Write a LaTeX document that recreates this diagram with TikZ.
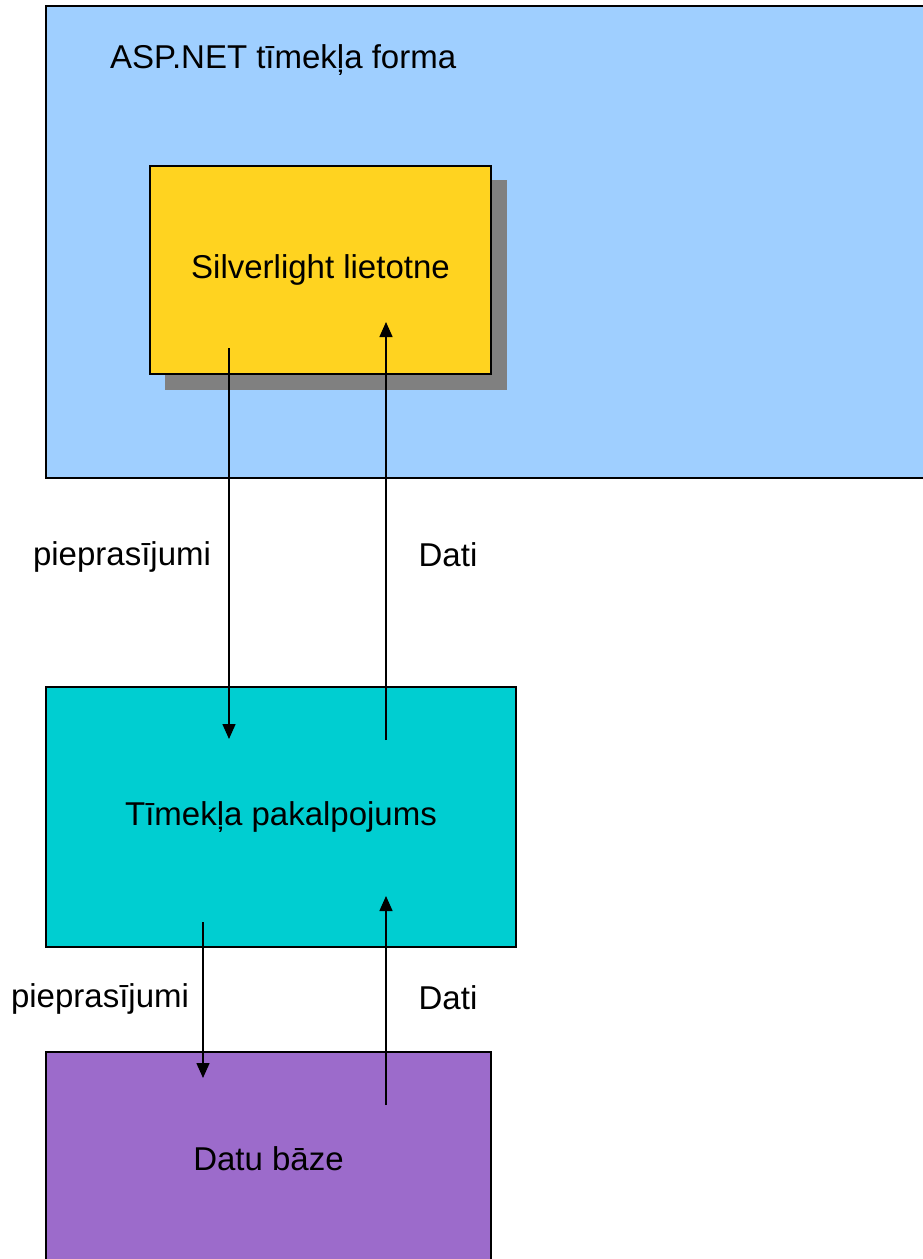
\documentclass[tikz,border=0pt]{standalone}
\usepackage{fontspec}
\setmainfont{Liberation Sans}
\usetikzlibrary{arrows.meta}
\definecolor{aspblue}{RGB}{159,207,255}
\definecolor{slgold}{RGB}{255,211,32}
\definecolor{shadowgray}{RGB}{128,128,128}
\definecolor{wsteal}{RGB}{0,206,209}
\definecolor{dbpurple}{RGB}{156,107,203}
\tikzset{
  box/.style={draw=black, line width=1.5pt, rectangle, inner sep=0pt, font=\fontsize{33}{39}\selectfont},
  lbl/.style={inner sep=0pt, font=\fontsize{33}{39}\selectfont},
  flow/.style={line width=1.5pt, -{Triangle[length=15pt,width=13pt]}}
}
\begin{document}
\begin{tikzpicture}[x=1pt,y=-1pt]
\useasboundingbox (0,0) rectangle (923,1259);
\fill[white] (0,0) rectangle (923,1259);
% ASP.NET form
\node[box, fill=aspblue, minimum width=884pt, minimum height=472pt] (asp) at (488,242) {};
\node[lbl, anchor=west] (asptitle) at (110,60) {ASP.NET tīmekļa forma};
% Silverlight app with shadow
\node[rectangle, fill=shadowgray, inner sep=0pt, minimum width=342pt, minimum height=210pt] (slshadow) at (336,285) {};
\node[box, fill=slgold, minimum width=341pt, minimum height=208pt] (sl) at (320.5,270) {Silverlight lietotne};
% Web service
\node[box, fill=wsteal, minimum width=470pt, minimum height=260pt] (ws) at (281,817) {Tīmekļa pakalpojums};
% Database
\node[box, fill=dbpurple, minimum width=445pt, minimum height=213pt] (db) at (268.5,1158.5) {Datu bāze};
% arrow end points
\coordinate (r1s) at (229,348);
\coordinate (r1e) at (229,739);
\coordinate (d1s) at (386,740);
\coordinate (d1e) at (386,322);
\coordinate (r2s) at (203,922);
\coordinate (r2e) at (203,1078);
\coordinate (d2s) at (386,1105);
\coordinate (d2e) at (386,896);
\draw[flow] (r1s) -- (r1e);
\draw[flow] (d1s) -- (d1e);
\draw[flow] (r2s) -- (r2e);
\draw[flow] (d2s) -- (d2e);
% labels
\node[lbl] (q1) at (122,557) {pieprasījumi};
\node[lbl] (a1) at (448,555) {Dati};
\node[lbl] (q2) at (100,999) {pieprasījumi};
\node[lbl] (a2) at (448,998) {Dati};
\end{tikzpicture}
\end{document}
